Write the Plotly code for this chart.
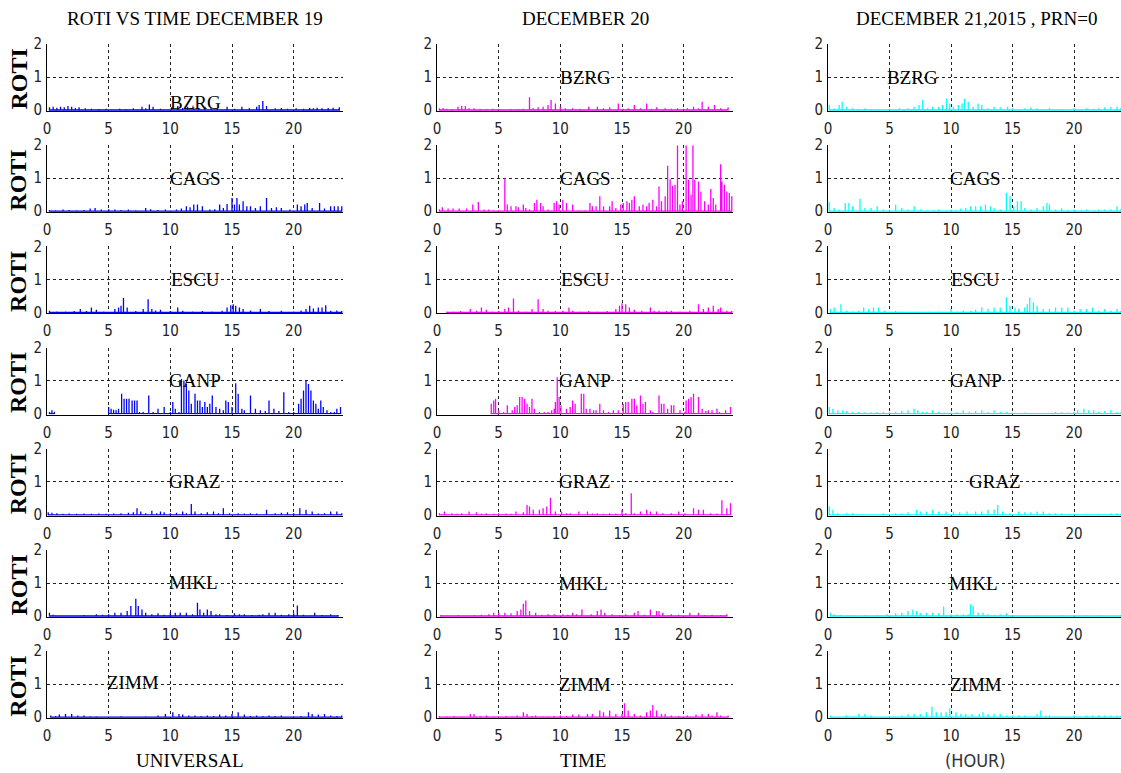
import plotly.graph_objects as go

# ---------------- data: (hour, ROTI) spikes ----------------
stations = ["BZRG", "CAGS", "ESCU", "GANP", "GRAZ", "MIKL", "ZIMM"]
days = ["DEC19", "DEC20", "DEC21"]
day_colors = ["#0000FF", "#FF00FF", "#00FFFF"]
col_titles = ["ROTI VS TIME DECEMBER 19", "DECEMBER 20", "DECEMBER 21,2015 , PRN=0"]
bottom_labels = ["UNIVERSAL", "TIME", "(HOUR)"]
x_ticks = [0, 5, 10, 15, 20]
y_ticks = [0, 1, 2]

dec19_bzrg = [(0.2,.08),(0.5,.10),(0.8,.07),(1.1,.10),(1.4,.08),(1.7,.12),(2.0,.10),(2.3,.06),(2.6,.08),(3.1,.05),(3.6,.04),(4.2,.03),(4.8,.04),(5.3,.02),(5.9,.04),(6.4,.03),(7.0,.05),(7.7,.10),(8.0,.05),(8.3,.17),(8.6,.10),(9.2,.04),(10.1,.08),(10.6,.12),(11.0,.06),(11.4,.10),(11.9,.08),(12.3,.05),(12.8,.10),(13.3,.06),(13.8,.05),(14.6,.10),(15.2,.04),(15.8,.10),(16.4,.05),(17.0,.10),(17.2,.15),(17.5,.27),(17.8,.12),(18.5,.05),(19.0,.06),(19.5,.04),(20.2,.05),(20.8,.04),(21.3,.06),(21.6,.05),(21.9,.07),(22.3,.05),(22.8,.06),(23.2,.07),(23.7,.08)]
dec19_cags = [(0.2,.04),(0.7,.03),(1.3,.05),(1.8,.04),(2.4,.03),(3.0,.04),(3.5,.08),(3.9,.10),(4.4,.05),(5.0,.06),(5.5,.05),(6.0,.04),(6.6,.05),(7.2,.03),(8.0,.10),(8.4,.06),(9.0,.04),(9.6,.05),(10.5,.05),(10.9,.08),(11.3,.15),(11.6,.12),(11.9,.20),(12.2,.20),(12.6,.15),(13.2,.05),(13.6,.06),(14.0,.20),(14.3,.10),(14.6,.22),(15.0,.40),(15.2,.20),(15.4,.40),(15.6,.20),(15.9,.30),(16.2,.15),(16.5,.15),(16.9,.10),(17.3,.15),(17.8,.40),(18.2,.10),(18.6,.12),(19.0,.10),(19.7,.05),(20.3,.20),(20.6,.15),(20.9,.20),(21.1,.25),(21.5,.10),(22.1,.25),(22.5,.08),(23.0,.15),(23.3,.15),(23.6,.15),(23.9,.15)]
dec19_escu = [(0.2,.05),(0.8,.03),(1.5,.03),(2.2,.04),(2.7,.10),(3.2,.04),(3.6,.15),(4.0,.08),(4.6,.03),(5.5,.10),(5.8,.15),(6.0,.20),(6.2,.44),(6.5,.15),(7.2,.04),(7.8,.10),(8.2,.40),(8.5,.10),(8.8,.06),(9.2,.08),(10.0,.04),(10.6,.15),(11.0,.05),(11.8,.03),(12.6,.04),(13.4,.03),(14.2,.05),(14.6,.15),(14.9,.22),(15.1,.25),(15.3,.20),(15.6,.15),(15.9,.10),(16.5,.06),(17.3,.10),(18.0,.04),(19.0,.05),(20.0,.03),(20.6,.06),(21.0,.10),(21.3,.20),(21.6,.12),(22.0,.15),(22.3,.15),(22.6,.22),(23.0,.05),(23.5,.06),(23.9,.04)]
dec19_ganp = [(0.2,.05),(0.4,.10),(0.6,.06),(5.0,.20),(5.2,.15),(5.4,.12),(5.6,.10),(5.8,.15),(6.05,.60),(6.25,.45),(6.45,.45),(6.65,.45),(6.9,.40),(7.1,.40),(7.3,.40),(7.5,.05),(7.8,.05),(8.25,.55),(8.6,.05),(9.0,.15),(9.5,.20),(10.0,.05),(10.2,.35),(10.4,.15),(10.7,.05),(10.9,1.05),(11.1,1.0),(11.3,.90),(11.5,.70),(11.7,.30),(12.0,.60),(12.2,.40),(12.4,.40),(12.6,.20),(12.8,.35),(13.0,.20),(13.2,.30),(13.4,.55),(13.7,.20),(14.0,.15),(14.3,.10),(14.5,.40),(14.7,.35),(15.0,.20),(15.3,.92),(15.5,.60),(15.8,.15),(16.0,.10),(16.5,.55),(16.9,.15),(17.3,.10),(17.7,.08),(18.0,.40),(18.4,.15),(18.8,.08),(19.2,.65),(19.6,.05),(20.0,.05),(20.4,.30),(20.6,.45),(20.8,.70),(21.0,1.0),(21.2,.90),(21.4,.70),(21.6,.40),(21.8,.30),(22.0,.15),(22.2,.40),(22.4,.20),(22.7,.10),(23.0,.05),(23.3,.05),(23.5,.15),(23.8,.20)]
dec19_graz = [(0.1,.08),(0.4,.06),(0.8,.05),(1.3,.03),(1.8,.04),(2.4,.03),(3.0,.04),(3.6,.03),(4.2,.04),(4.8,.03),(5.4,.04),(6.0,.05),(6.6,.06),(7.0,.08),(7.3,.20),(7.6,.10),(8.0,.05),(8.5,.12),(8.9,.05),(9.2,.10),(9.5,.08),(10.0,.05),(10.5,.06),(11.0,.10),(11.3,.05),(11.7,.33),(12.0,.10),(12.5,.05),(13.0,.08),(13.5,.10),(13.9,.05),(14.3,.20),(14.8,.05),(15.5,.05),(16.0,.04),(16.5,.05),(17.0,.04),(17.8,.15),(18.5,.05),(19.0,.06),(19.5,.08),(20.0,.05),(20.5,.20),(21.0,.15),(21.5,.10),(22.0,.04),(22.5,.05),(23.0,.10),(23.5,.10),(23.9,.05)]
dec19_mikl = [(0.2,.10),(0.5,.04),(1.2,.02),(2.0,.02),(3.0,.03),(3.6,.02),(4.0,.05),(4.5,.04),(5.0,.05),(5.5,.10),(6.0,.10),(6.5,.15),(6.8,.30),(7.2,.52),(7.4,.30),(7.7,.20),(8.0,.10),(8.5,.05),(9.0,.08),(9.5,.04),(10.0,.10),(10.4,.10),(10.8,.10),(11.3,.10),(11.8,.05),(12.2,.40),(12.4,.20),(12.7,.10),(13.0,.20),(13.3,.15),(13.7,.05),(14.0,.05),(14.6,.03),(15.2,.08),(15.6,.05),(16.0,.05),(16.6,.03),(17.2,.04),(17.5,.05),(18.0,.10),(18.5,.10),(19.0,.04),(19.6,.05),(20.0,.08),(20.3,.32),(20.8,.04),(21.7,.10),(22.3,.03),(23.0,.05),(23.6,.03)]
dec19_zimm = [(0.3,.05),(0.7,.04),(1.0,.08),(1.5,.10),(2.0,.10),(2.5,.05),(3.0,.05),(3.5,.03),(4.0,.03),(5.0,.02),(6.0,.03),(7.0,.02),(8.0,.03),(9.0,.05),(9.6,.10),(10.2,.15),(10.7,.10),(11.0,.08),(11.5,.05),(12.0,.05),(12.5,.04),(13.0,.05),(13.5,.04),(14.0,.08),(14.5,.05),(15.0,.10),(15.5,.15),(16.0,.08),(16.5,.04),(17.0,.05),(17.5,.04),(18.0,.05),(18.5,.04),(19.0,.05),(20.0,.03),(20.6,.04),(21.2,.15),(21.5,.10),(22.0,.08),(22.5,.10),(23.0,.05),(23.5,.04),(23.9,.05)]

dec20_bzrg = [(0.2,.05),(0.5,.06),(0.8,.04),(1.2,.03),(1.7,.10),(2.0,.12),(2.3,.12),(2.6,.05),(3.0,.05),(3.5,.03),(4.0,.03),(4.5,.04),(5.0,.03),(5.5,.02),(6.0,.03),(6.6,.03),(7.0,.04),(7.5,.39),(7.8,.05),(8.2,.08),(8.6,.10),(9.0,.15),(9.25,.30),(9.6,.20),(10.0,.10),(10.4,.05),(11.0,.05),(11.6,.04),(12.3,.10),(13.0,.10),(13.5,.05),(14.0,.08),(14.7,.20),(15.1,.04),(15.5,.05),(16.0,.15),(16.5,.05),(17.0,.20),(17.4,.04),(17.8,.08),(18.5,.05),(19.0,.04),(19.5,.05),(20.0,.04),(20.3,.05),(20.8,.10),(21.2,.05),(21.5,.25),(22.0,.10),(22.5,.15),(23.0,.05),(23.6,.08)]
dec20_cags = [(0.2,.06),(0.43,.12),(0.9,.08),(1.3,.08),(1.8,.08),(2.4,.08),(2.9,.20),(3.35,.28),(3.8,.05),(4.2,.05),(4.6,.03),(5.0,.03),(5.5,1.0),(5.7,.20),(6.0,.15),(6.4,.15),(6.6,.12),(7.0,.20),(7.2,.10),(7.5,.05),(7.9,.25),(8.1,.35),(8.4,.25),(8.6,.15),(9.0,.05),(9.5,.25),(9.7,.30),(9.9,.20),(10.2,.35),(10.5,.25),(11.0,.20),(11.5,.03),(12.0,.03),(12.4,.25),(12.6,.15),(12.9,.15),(13.2,.45),(13.5,.15),(14.0,.15),(14.2,.30),(14.5,.10),(14.9,.20),(15.1,.25),(15.4,.30),(15.6,.25),(15.8,.35),(16.0,.45),(16.4,.15),(16.7,.20),(17.0,.15),(17.2,.25),(17.5,.35),(17.8,.15),(18.0,.75),(18.2,.30),(18.5,.45),(18.7,1.38),(18.9,.97),(19.1,.77),(19.3,.80),(19.5,2.0),(19.7,.20),(19.9,.30),(20.2,2.0),(20.4,.95),(20.6,.50),(20.75,2.0),(20.9,.95),(21.2,.90),(21.4,.60),(21.7,.30),(22.0,.20),(22.2,.67),(22.4,.40),(22.6,.20),(23.0,1.42),(23.1,.90),(23.3,.80),(23.5,.60),(23.7,.55),(23.9,.45)]
dec20_escu = [(0.8,.03),(1.3,.03),(1.9,.04),(2.7,.10),(3.2,.05),(3.6,.15),(4.0,.08),(4.5,.03),(5.0,.04),(5.5,.10),(5.8,.15),(6.2,.42),(6.6,.05),(7.2,.03),(7.7,.10),(8.2,.40),(8.6,.10),(9.0,.05),(9.6,.04),(10.2,.05),(10.7,.15),(11.0,.05),(11.6,.03),(12.3,.04),(13.0,.03),(13.8,.04),(14.5,.10),(14.8,.20),(15.0,.28),(15.3,.25),(15.6,.15),(16.0,.08),(16.6,.05),(17.3,.15),(17.6,.05),(18.0,.05),(18.6,.04),(19.0,.05),(19.7,.03),(20.5,.05),(21.2,.25),(21.6,.10),(22.0,.15),(22.4,.20),(22.8,.10),(23.0,.15),(23.5,.05),(23.9,.04)]
dec20_ganp = [(4.4,.30),(4.6,.40),(4.75,.45),(5.0,.10),(5.4,.05),(5.7,.25),(6.1,.10),(6.3,.20),(6.5,.25),(6.7,.50),(6.9,.50),(7.1,.45),(7.3,.30),(7.5,.20),(7.7,.45),(7.9,.15),(8.3,.05),(8.7,.05),(9.0,.05),(9.3,.10),(9.5,.15),(9.6,.35),(9.75,1.10),(9.9,.50),(10.05,.25),(10.5,.15),(10.8,.20),(11.0,.40),(11.2,.30),(11.7,.60),(11.9,.60),(12.1,.15),(12.4,.15),(12.7,.10),(12.9,.10),(13.2,.30),(13.5,.10),(13.9,.05),(14.3,.10),(14.7,.10),(15.1,.30),(15.3,.35),(15.5,.35),(15.8,.45),(16.0,.45),(16.2,.25),(16.5,.55),(16.7,.30),(16.9,.35),(17.3,.10),(17.5,.05),(18.0,.55),(18.2,.30),(18.4,.30),(18.7,.15),(19.0,.25),(19.2,.25),(19.7,.10),(20.1,.05),(20.2,.40),(20.4,.45),(20.6,.50),(20.8,.60),(21.2,.50),(21.5,.15),(21.8,.08),(22.0,.10),(22.3,.10),(22.7,.15),(22.9,.05),(23.4,.10),(23.8,.20)]
dec20_graz = [(0.2,.05),(0.6,.10),(1.2,.05),(1.6,.03),(2.0,.05),(2.6,.10),(3.2,.08),(3.6,.03),(4.0,.05),(4.6,.03),(5.0,.05),(5.6,.04),(6.0,.03),(6.4,.10),(7.0,.08),(7.3,.30),(7.5,.25),(7.8,.15),(8.3,.15),(8.6,.20),(8.9,.25),(9.2,.52),(9.6,.10),(10.1,.10),(10.5,.05),(10.8,.05),(11.5,.10),(12.2,.10),(12.6,.04),(13.0,.05),(13.5,.03),(14.0,.05),(14.5,.04),(15.0,.15),(15.3,.05),(15.75,.65),(16.0,.05),(16.5,.10),(17.0,.15),(17.3,.10),(17.8,.10),(18.3,.05),(19.0,.05),(19.6,.10),(20.1,.05),(20.8,.20),(21.2,.15),(21.6,.15),(22.2,.05),(22.7,.04),(23.1,.44),(23.5,.20),(23.8,.35)]
dec20_mikl = [(0.3,.03),(1.0,.02),(1.7,.03),(2.4,.02),(3.0,.03),(3.6,.04),(4.2,.05),(4.6,.10),(5.0,.10),(5.5,.10),(6.0,.08),(6.5,.15),(6.8,.20),(7.0,.37),(7.2,.47),(7.5,.15),(8.0,.10),(8.5,.04),(9.0,.05),(9.5,.05),(10.2,.05),(10.6,.04),(11.0,.10),(11.3,.05),(11.75,.20),(12.5,.05),(13.0,.15),(13.3,.20),(13.6,.10),(14.2,.05),(14.8,.03),(15.3,.05),(16.0,.10),(16.3,.15),(16.8,.04),(17.3,.20),(17.8,.15),(18.0,.15),(18.3,.10),(19.0,.05),(19.6,.04),(20.5,.10),(21.2,.10),(21.7,.03),(22.3,.04),(23.0,.03),(23.5,.05)]
dec20_zimm = [(0.2,.04),(0.8,.03),(1.4,.04),(2.0,.03),(2.7,.10),(3.0,.10),(3.5,.04),(4.0,.05),(4.6,.03),(5.0,.03),(5.6,.04),(6.1,.03),(6.5,.05),(7.0,.15),(7.3,.10),(7.7,.04),(8.0,.05),(8.6,.03),(9.0,.03),(9.5,.04),(10.0,.05),(10.5,.04),(11.0,.08),(11.5,.08),(12.2,.10),(12.6,.10),(13.2,.20),(13.5,.15),(14.0,.20),(14.5,.10),(15.0,.10),(15.2,.42),(15.5,.20),(16.0,.10),(16.5,.05),(17.0,.15),(17.3,.20),(17.5,.37),(17.8,.20),(18.2,.10),(18.5,.10),(19.0,.05),(19.6,.04),(20.3,.05),(21.0,.08),(21.5,.10),(22.0,.10),(22.3,.05),(22.7,.15),(23.0,.05),(23.6,.05)]

dec21_bzrg = [(0.1,.15),(0.5,.05),(0.9,.15),(1.15,.25),(1.5,.10),(2.0,.05),(2.5,.03),(3.0,.05),(3.5,.03),(4.0,.03),(5.0,.03),(5.8,.05),(6.5,.05),(7.0,.10),(7.4,.15),(7.7,.30),(8.1,.05),(8.5,.10),(9.0,.10),(9.3,.15),(9.65,.35),(9.9,.20),(10.2,.10),(10.6,.15),(10.9,.20),(11.1,.34),(11.4,.25),(11.8,.10),(12.2,.20),(12.5,.15),(13.0,.05),(13.5,.10),(14.0,.08),(14.6,.10),(15.0,.05),(15.6,.03),(16.0,.05),(16.5,.08),(17.0,.05),(17.6,.03),(18.0,.05),(19.0,.03),(20.0,.05),(20.6,.03),(21.0,.05),(21.6,.04),(22.0,.05),(22.5,.08),(23.0,.10),(23.5,.10),(23.8,.05)]
dec21_cags = [(0.1,.28),(0.5,.10),(0.9,.05),(1.4,.25),(1.7,.25),(2.0,.15),(2.6,.38),(3.0,.10),(3.5,.10),(4.0,.15),(4.5,.05),(5.0,.05),(5.5,.20),(6.0,.10),(6.5,.05),(7.0,.15),(7.5,.05),(8.0,.03),(8.6,.04),(9.0,.05),(9.6,.03),(10.0,.05),(10.4,.04),(10.8,.08),(11.2,.10),(11.6,.15),(12.0,.15),(12.4,.15),(12.8,.20),(13.2,.15),(13.5,.10),(14.0,.05),(14.5,.56),(14.8,.45),(15.1,.15),(15.4,.30),(15.7,.30),(16.0,.10),(16.5,.05),(17.0,.10),(17.5,.15),(17.8,.25),(18.0,.20),(18.5,.05),(19.0,.08),(19.5,.04),(20.0,.05),(20.6,.04),(21.0,.05),(21.6,.04),(22.0,.05),(22.5,.05),(23.0,.05),(23.5,.15),(23.8,.05)]
dec21_escu = [(0.2,.10),(0.5,.15),(1.05,.25),(1.5,.05),(2.0,.03),(2.5,.05),(2.9,.15),(3.3,.10),(3.7,.15),(4.1,.15),(4.6,.05),(5.0,.03),(5.5,.05),(6.0,.03),(6.6,.02),(7.0,.03),(7.6,.02),(8.2,.03),(9.0,.03),(9.5,.02),(10.0,.10),(10.5,.03),(11.0,.05),(11.6,.04),(12.0,.08),(12.5,.15),(13.0,.10),(13.5,.15),(14.0,.15),(14.5,.46),(14.8,.20),(15.2,.15),(15.5,.10),(16.0,.15),(16.2,.25),(16.4,.45),(16.7,.30),(17.0,.20),(17.5,.10),(18.0,.10),(18.5,.15),(19.0,.15),(19.5,.15),(20.0,.05),(20.5,.10),(21.0,.10),(21.5,.15),(22.0,.05),(22.5,.10),(23.0,.05),(23.5,.10),(23.8,.04)]
dec21_ganp = [(0.1,.20),(0.4,.15),(0.8,.10),(1.2,.10),(1.5,.08),(2.0,.05),(2.5,.05),(3.0,.05),(3.5,.04),(4.0,.05),(4.5,.05),(5.0,.05),(5.5,.05),(6.0,.08),(6.5,.10),(7.0,.15),(7.3,.10),(7.7,.05),(8.0,.05),(8.5,.10),(9.0,.05),(9.5,.03),(10.0,.03),(10.5,.05),(11.0,.10),(11.5,.05),(12.0,.08),(12.5,.10),(13.0,.05),(13.5,.10),(14.0,.05),(14.5,.05),(15.0,.03),(15.5,.02),(16.0,.03),(16.8,.02),(17.5,.02),(18.5,.05),(19.0,.05),(19.5,.03),(20.0,.05),(20.3,.10),(20.8,.15),(21.2,.10),(21.6,.10),(22.0,.05),(22.5,.08),(23.0,.10),(23.5,.05),(23.8,.03)]
dec21_graz = [(0.1,.26),(0.4,.15),(0.8,.05),(1.5,.05),(2.0,.05),(2.6,.02),(3.2,.02),(4.0,.02),(4.5,.05),(5.0,.02),(5.5,.05),(6.0,.05),(6.5,.08),(7.2,.15),(7.5,.10),(8.0,.10),(8.5,.15),(9.0,.10),(9.6,.10),(10.2,.10),(10.7,.08),(11.3,.10),(12.0,.10),(12.5,.10),(13.0,.15),(13.5,.15),(13.8,.30),(14.2,.10),(14.8,.05),(15.5,.10),(16.0,.08),(16.5,.08),(17.0,.10),(17.5,.10),(18.0,.05),(18.5,.05),(19.0,.05),(19.6,.03),(20.0,.03),(20.5,.02),(21.0,.03),(21.6,.02),(22.0,.03),(22.5,.02),(23.0,.05),(23.5,.05),(23.8,.03)]
dec21_mikl = [(0.2,.10),(0.5,.05),(1.0,.03),(1.5,.02),(2.0,.03),(2.5,.02),(3.0,.03),(3.5,.02),(4.0,.03),(4.8,.05),(5.5,.08),(6.0,.10),(6.5,.15),(6.9,.20),(7.2,.15),(7.5,.10),(8.0,.10),(8.5,.10),(9.0,.08),(9.4,.29),(10.0,.05),(10.5,.05),(11.0,.05),(11.4,.05),(11.6,.36),(11.8,.30),(12.2,.10),(12.6,.10),(13.0,.05),(13.5,.03),(14.0,.05),(14.5,.08),(15.0,.03),(16.0,.02),(17.0,.03),(18.0,.02),(19.0,.03),(20.0,.03),(21.0,.03),(22.0,.03),(23.0,.02),(23.8,.03)]
dec21_zimm = [(0.2,.05),(0.8,.02),(1.5,.05),(2.0,.03),(2.5,.10),(3.0,.10),(3.5,.05),(4.0,.02),(5.0,.03),(5.5,.02),(6.0,.05),(6.5,.10),(7.0,.10),(7.5,.10),(8.0,.15),(8.45,.32),(8.8,.15),(9.2,.15),(9.6,.15),(9.9,.27),(10.4,.15),(10.8,.10),(11.2,.10),(11.7,.10),(12.3,.10),(12.6,.15),(13.0,.10),(13.5,.10),(14.0,.10),(14.5,.05),(15.0,.05),(15.5,.05),(16.0,.05),(16.5,.03),(17.0,.10),(17.3,.20),(17.7,.05),(18.0,.05),(19.0,.03),(20.0,.05),(20.5,.03),(21.0,.05),(21.5,.05),(22.0,.05),(22.5,.05),(23.0,.05),(23.5,.05),(23.8,.04)]

panels = [
    [dec19_bzrg, dec20_bzrg, dec21_bzrg],
    [dec19_cags, dec20_cags, dec21_cags],
    [dec19_escu, dec20_escu, dec21_escu],
    [dec19_ganp, dec20_ganp, dec21_ganp],
    [dec19_graz, dec20_graz, dec21_graz],
    [dec19_mikl, dec20_mikl, dec21_mikl],
    [dec19_zimm, dec20_zimm, dec21_zimm],
]
# station label anchor (hour, roti) per row/column
label_pos = [
    [(12.0, 0.24), (12.0, 0.99), (6.9, 0.99)],
    [(12.0, 0.99), (12.0, 0.99), (12.0, 0.99)],
    [(12.0, 0.99), (12.0, 0.99), (12.0, 0.99)],
    [(12.0, 1.01), (12.0, 1.0), (12.0, 1.0)],
    [(12.0, 1.01), (12.0, 1.0), (13.6, 1.0)],
    [(11.9, 1.01), (11.9, 1.0), (11.8, 1.0)],
    [(7.0, 1.04), (12.0, 1.0), (12.0, 1.0)],
]

# ---------------- layout geometry (pixels) ----------------
W, H = 1121, 773
col_px = [(47, 343, 24.0), (437, 733, 24.0), (828, 1121, 23.82)]
row_top0, row_step, row_h = 44.0, 101.2, 67.0

SERIF = "Liberation Serif, Times New Roman, serif"
NARROW = "Liberation Sans Narrow, Arial Narrow, DejaVu Sans Condensed, Liberation Sans, Arial, sans-serif"

fig = go.Figure()
annotations = []

def stem_xy(pairs):
    xs, ys = [], []
    prev = None
    for t, v in sorted(pairs):
        if prev is not None and t - prev > 2.5:
            xs.append(None); ys.append(None)
        xs += [t, t, t]
        ys += [0, v, 0]
        prev = t
    return xs, ys

n = 0
for r in range(7):
    top = row_top0 + r * row_step
    bot = top + row_h
    for c in range(3):
        n += 1
        xa = "x" if n == 1 else f"x{n}"
        ya = "y" if n == 1 else f"y{n}"
        x0, x1, xmax = col_px[c]
        xs, ys = stem_xy(panels[r][c])
        fig.add_trace(go.Scatter(x=xs, y=ys, mode="lines", xaxis=xa, yaxis=ya,
                                 line=dict(color=day_colors[c], width=1.3),
                                 hoverinfo="skip", showlegend=False))
        axis_common = dict(showgrid=True, gridcolor="#222222", gridwidth=1, griddash="3px,3px",
                           showline=True, linecolor="black", linewidth=1, zeroline=False,
                           layer="below traces", automargin=False,
                           tickfont=dict(family=NARROW, size=15, color="#222222"),
                           fixedrange=True)
        fig.layout[f"xaxis{'' if n == 1 else n}"] = dict(
            axis_common, domain=[x0 / W, x1 / W], anchor=ya, range=[0, xmax],
            tickvals=x_ticks, ticks="outside", ticklen=4, tickcolor="rgba(0,0,0,0)")
        fig.layout[f"yaxis{'' if n == 1 else n}"] = dict(
            axis_common, domain=[1 - bot / H, 1 - top / H], anchor=xa, range=[-0.03, 2.0],
            tickvals=y_ticks, ticks="outside", ticklen=1, tickcolor="rgba(0,0,0,0)")
        lx, ly = label_pos[r][c]
        annotations.append(dict(x=lx, y=ly, xref=xa, yref=ya, text=stations[r], showarrow=False,
                                font=dict(family=SERIF, size=19, color="black"),
                                xanchor="center", yanchor="middle"))
    annotations.append(dict(x=18 / W, y=1 - (top + row_h / 2 + 2) / H, xref="paper", yref="paper",
                            text="<b>ROTI</b>", textangle=-90, showarrow=False,
                            font=dict(family=SERIF, size=24, color="black"),
                            xanchor="center", yanchor="middle"))

title_x = [194.5, 585, 976]
for c in range(3):
    annotations.append(dict(x=title_x[c] / W, y=1 - 19 / H, xref="paper", yref="paper",
                            text=col_titles[c], showarrow=False,
                            font=dict(family=SERIF, size=19, color="black"),
                            xanchor="center", yanchor="middle"))
bottom_x = [190, 583, 975]
for c in range(3):
    fnt = dict(family=SERIF, size=19, color="black") if c < 2 else dict(family=NARROW, size=18, color="#333333")
    annotations.append(dict(x=bottom_x[c] / W, y=1 - 760 / H, xref="paper", yref="paper",
                            text=bottom_labels[c], showarrow=False, font=fnt,
                            xanchor="center", yanchor="middle"))

fig.update_layout(width=W, height=H, margin=dict(l=0, r=0, t=0, b=0, autoexpand=False),
                  paper_bgcolor="white", plot_bgcolor="white",
                  annotations=annotations, showlegend=False)

fig.write_html("out.html", config={"displayModeBar": False},
               post_script="document.body.style.margin='0';document.body.style.overflow='hidden';")
